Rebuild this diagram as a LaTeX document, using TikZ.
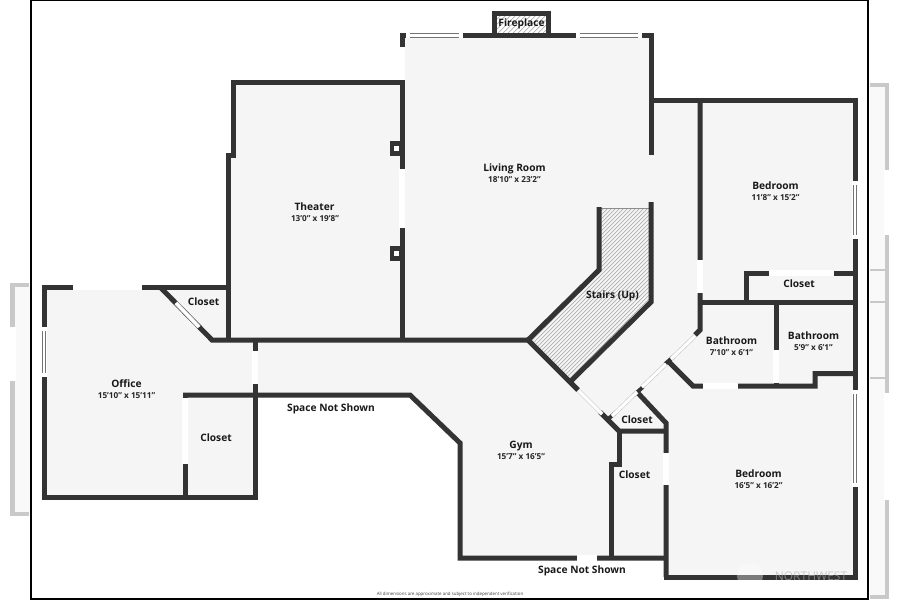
\documentclass[tikz,border=0pt]{standalone}
\usepackage{fontspec}
\setmainfont{Open Sans}
\definecolor{wallc}{HTML}{333333}
\definecolor{floorc}{HTML}{F5F5F5}
\definecolor{sidec}{HTML}{C9C9C9}
\definecolor{sidefill}{HTML}{F9F9F9}
\definecolor{hatchc}{HTML}{B0B0B0}
\tikzset{
  wall/.style={draw=wallc,line width=5pt,miter limit=10},
  gap/.style={draw=white,line width=5.2pt},
  doorline/.style={draw=black!22,line width=0.6pt,double=white,double distance=3pt},
  windowcap/.style={draw=white,line width=5.2pt},
  windowline/.style={draw=black!55,line width=0.85pt,double=white,double distance=2.6pt},
  side/.style={draw=sidec,line width=4.5pt},
  sidegap/.style={draw=white,line width=6pt},
  frameline/.style={draw=black,line width=2pt},
  title/.style={font=\bfseries\fontsize{10.2}{11}\selectfont,text=black!90,inner sep=0pt,text height=8.5pt,text depth=1.5pt},
  dim/.style={font=\bfseries\fontsize{8.2}{9}\selectfont,text=black!85,inner sep=0pt,text height=7pt,text depth=1pt},
  hatchline/.style={draw=hatchc,line width=0.7pt}
}
\newcommand{\winop}[2]{\draw[windowcap] #1 -- #2; \draw[windowline,shorten >=4pt,shorten <=4pt] #1 -- #2;}
\begin{document}
\begin{tikzpicture}[x=1pt,y=-1pt]
\useasboundingbox (0,0) rectangle (900,600);
\fill[white] (0,0) rectangle (900,600);
% outside structures
\fill[sidefill] (14,287) rectangle (30,514);
\fill[sidefill] (870,85) rectangle (886,598);
\draw[side] (29,285) -- (12.5,285) -- (12.5,514) -- (29,514);
\draw[sidegap] (12.5,327) -- (12.5,381);
\draw[side] (870,85) -- (887,85) -- (887,597) -- (870,597);
\draw[side,line width=2.5pt] (870,270) -- (887,270) (870,302) -- (887,302) (870,378) -- (887,378);
\draw[sidegap] (887,170) -- (887,235);
\draw[sidegap] (887,393) -- (887,500);
% floor
\fill[floorc] (44,287) -- (228,287) -- (228,155) -- (233,155) -- (233,82) -- (402,82) -- (402,35) -- (651,35) -- (651,100) -- (855,100) -- (855,577) -- (666,577) -- (666,558) -- (460,558) -- (460,443) -- (410,395) -- (255,395) -- (255,497) -- (44,497) -- cycle;
% fireplace hatch
\fill[white] (494,13) rectangle (548,35);
\begin{scope}
  \clip (494,13) rectangle (548,35);
  \foreach \c in {470,475,...,560} \draw[hatchline] (\c,36) -- (\c+24,12);
\end{scope}
% stairs hatch
\begin{scope}
  \clip (528,340) -- (599,270) -- (599,209) -- (651,209) -- (651,302) -- (572,381) -- cycle;
  \foreach \c in {600,604,...,780} \draw[hatchline,line width=0.7pt] (\c-400,600) -- (\c,200);
\end{scope}
\draw[draw=black!45,line width=0.7pt] (599,208.5) -- (651,208.5);
% walls
\draw[wall] (44,287) -- (228,287);
\draw[wall] (44,284.5) -- (44,500);
\draw[wall] (41.5,497.5) -- (257.5,497.5);
\draw[wall] (255,340) -- (255,497.5);
\draw[wall] (185,395) -- (185,497.5);
\draw[wall] (183,395) -- (410,395) -- (460,443) -- (460,558) -- (666,558);
\draw[wall] (160,287) -- (212,340) -- (528,340);
\draw[wall] (228,340) -- (228,155) -- (233,155) -- (233,82) -- (402,82);
\draw[wall] (402,340) -- (402,33);
\draw[wall] (399.5,35.5) -- (653.5,35.5);
\draw[wall] (651,35.5) -- (651,155);
\draw[wall] (494.5,35) -- (494.5,13.2) -- (548,13.2) -- (548,35);
% pilasters
\fill[wallc] (389.5,141) rectangle (403,156);
\fill[white] (394,146) rectangle (399,151);
\fill[wallc] (389.5,246) rectangle (403,261);
\fill[white] (394,251) rectangle (399,256);
% stairs
\draw[wall] (578,390) -- (528,340) -- (599,270) -- (599,207);
\draw[wall] (651,202) -- (651,302) -- (570,382);
% east wing
\draw[wall] (651,100) -- (857.5,100);
\draw[wall] (855,100) -- (855,579.5);
\draw[wall] (664,577) -- (857,577);
\draw[wall] (666,577) -- (666,423) -- (637,392);
\draw[wall] (700,100) -- (700,330) -- (695,335);
\draw[wall] (700,302) -- (855,302);
\draw[wall] (746,302) -- (746,273) -- (855,273);
\draw[wall] (776,302) -- (776,386);
\draw[wall] (668,361) -- (693,386) -- (815,386) -- (815,373.5) -- (855,373.5);
\draw[wall] (600,412) -- (619,431) -- (667,431);
\draw[wall] (619,431) -- (619,464) -- (611,464) -- (611,558);
\draw[wall,line width=3.8pt] (665,364) -- (673,357);
\draw[wall,line width=3.8pt] (634,395) -- (643,387);
\draw[wall,line width=3.8pt] (607,420) -- (615,413);
% openings
\draw[gap] (73,287) -- (142,287);
\draw[gap] (255,351) -- (255,384);
\draw[gap] (185,398) -- (185,464);
\draw[gap] (402,47) -- (402,80);
\draw[gap] (402,169) -- (402,228);
\draw[gap] (700,260) -- (700,293);
\draw[gap] (769,273) -- (834,273);
\draw[gap] (776,350) -- (776,383);
\draw[gap] (703,386) -- (738,386);
\draw[gap] (666,453) -- (666,485);
\draw[gap] (577,558) -- (597,558);
\draw[doorline] (176,303) -- (199,327);
\draw[doorline] (579,391) -- (602,414);
\draw[doorline] (695,336) -- (671,359);
\draw[doorline] (666,364) -- (642,387);
\draw[doorline] (637,392) -- (612,416);
% windows
\winop{(44,327)}{(44,377)}
\winop{(406,35.5)}{(463,35.5)}
\winop{(576,35.5)}{(642,35.5)}
\winop{(855,181)}{(855,239)}
\winop{(855,390)}{(855,487)}
% frame
\draw[frameline] (31,0) -- (31,598.5) -- (868,598.5) -- (868,0);
\draw[frameline] (31,0.3) -- (868,0.3);
% labels
\node[title] (livingT) at (514.5,168) {Living Room};
\node[dim] (livingD) at (514.5,179.5) {18'10" x 23'2"};
\node[title] (theaterT) at (314.5,206.5) {Theater};
\node[dim] (theaterD) at (315,218) {13'0" x 19'8"};
\node[title] (fire) at (521.5,22.5) {Fireplace};
\node[title] (stairs) at (612.5,295) {Stairs (Up)};
\node[title] (closet1) at (203.5,302) {Closet};
\node[title] (officeT) at (126.5,384) {Office};
\node[dim] (officeD) at (126.5,395.5) {15'10" x 15'11"};
\node[title] (closet2) at (216,438) {Closet};
\node[title] (snsA) at (331,408) {Space Not Shown};
\node[title] (gymT) at (521,444.5) {Gym};
\node[dim] (gymD) at (521,456) {15'7" x 16'5"};
\node[title] (closet3) at (637,420) {Closet};
\node[title] (closet4) at (634.5,475) {Closet};
\node[title] (snsB) at (582,570) {Space Not Shown};
\node[title] (bedAT) at (775.5,185.5) {Bedroom};
\node[dim] (bedAD) at (775.5,197) {11'8" x 15'2"};
\node[title] (closet5) at (799,284) {Closet};
\node[title] (bathAT) at (731.5,341) {Bathroom};
\node[dim] (bathAD) at (731.5,352) {7'10" x 6'1"};
\node[title] (bathBT) at (813.5,335.5) {Bathroom};
\node[dim] (bathBD) at (813.5,347) {5'9" x 6'1"};
\node[title] (bedBT) at (758.5,473.5) {Bedroom};
\node[dim] (bedBD) at (758.5,485) {16'5" x 16'2"};
\node[inner sep=0pt,font=\fontsize{4.4}{5}\selectfont,text=black!75] (foot) at (450,594) {All dimensions are approximate and subject to independent verification};
% watermark
\fill[white,opacity=0.35] (750,576) circle (13);
\node[inner sep=0pt,font=\fontsize{12}{13}\selectfont,text=black!30,opacity=0.6] (mark) at (811,576) {NORTHWEST};
\end{tikzpicture}
\end{document}
